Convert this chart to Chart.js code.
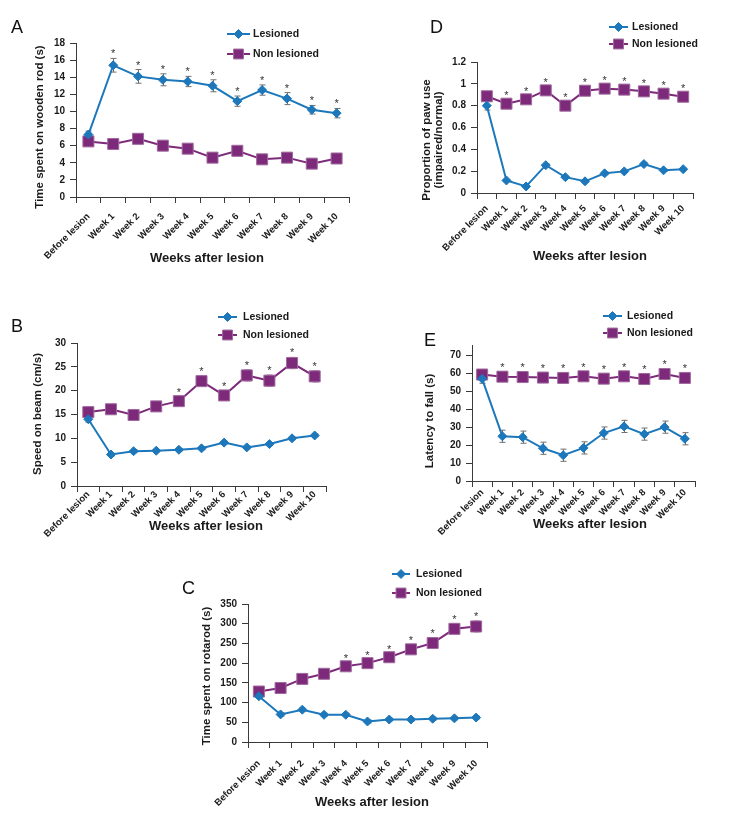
<!DOCTYPE html>
<html><head><meta charset="utf-8">
<script src="https://cdn.jsdelivr.net/npm/chart.js@4/dist/chart.umd.min.js"></script>
<style>
html,body{margin:0;padding:0;background:#fff;}
body{width:740px;height:835px;position:relative;overflow:hidden;}
canvas{position:absolute;}
</style></head><body>
<canvas id="cA"></canvas>
<canvas id="cD"></canvas>
<canvas id="cB"></canvas>
<canvas id="cE"></canvas>
<canvas id="cC"></canvas>
<script>
// ---------- DATA ----------
const weeks = ['Before lesion','Week 1','Week 2','Week 3','Week 4','Week 5','Week 6','Week 7','Week 8','Week 9','Week 10'];
const seriesNames = ['Lesioned','Non lesioned'];
const xAxisTitle = 'Weeks after lesion';

// A: wooden rod
const rodLesioned      = [7.3, 15.4, 14.1, 13.7, 13.5, 13.0, 11.2, 12.5, 11.5, 10.2, 9.8];
const rodLesionedErr   = [0.4, 0.8, 0.8, 0.7, 0.6, 0.7, 0.6, 0.6, 0.7, 0.5, 0.55];
const rodNonLesioned   = [6.5, 6.2, 6.8, 6.0, 5.65, 4.6, 5.4, 4.4, 4.6, 3.9, 4.5];
const rodNonLesionedErr= [0.3, 0.3, 0.3, 0.3, 0.3, 0.3, 0.3, 0.3, 0.3, 0.3, 0.3];
const rodSig           = [0, 1, 1, 1, 1, 1, 1, 1, 1, 1, 1];
const rodYTicks        = [0, 2, 4, 6, 8, 10, 12, 14, 16, 18];

// D: paw use
const pawLesioned      = [0.80, 0.115, 0.06, 0.255, 0.145, 0.107, 0.18, 0.198, 0.265, 0.208, 0.218];
const pawLesionedErr   = [0.04, 0.01, 0.01, 0.012, 0.01, 0.01, 0.012, 0.01, 0.012, 0.01, 0.01];
const pawNonLesioned   = [0.886, 0.818, 0.858, 0.94, 0.80, 0.937, 0.956, 0.947, 0.931, 0.91, 0.882];
const pawNonLesionedErr= [0.03, 0.03, 0.03, 0.035, 0.03, 0.035, 0.03, 0.035, 0.035, 0.03, 0.03];
const pawSig           = [0, 1, 1, 1, 1, 1, 1, 1, 1, 1, 1];
const pawYTicks        = [0, 0.2, 0.4, 0.6, 0.8, 1, 1.2];

// B: beam
const beamLesioned      = [14.0, 6.6, 7.3, 7.4, 7.6, 7.9, 9.1, 8.1, 8.8, 10.0, 10.6];
const beamLesionedErr   = [0.6, 0.3, 0.3, 0.3, 0.3, 0.3, 0.3, 0.3, 0.3, 0.3, 0.3];
const beamNonLesioned   = [15.5, 16.1, 14.9, 16.7, 17.8, 22.0, 19.0, 23.2, 22.1, 25.8, 23.0];
const beamNonLesionedErr= [0.6, 0.6, 0.6, 0.6, 0.9, 1.0, 1.0, 1.2, 1.2, 1.2, 1.2];
const beamSig           = [0, 0, 0, 0, 1, 1, 1, 1, 1, 1, 1];
const beamYTicks        = [0, 5, 10, 15, 20, 25, 30];

// E: latency to fall
const fallLesioned      = [57.1, 25.0, 24.5, 18.3, 14.4, 18.5, 26.8, 30.5, 26.2, 30.1, 23.6];
const fallLesionedErr   = [2.5, 3.4, 3.4, 3.4, 3.4, 3.4, 3.4, 3.4, 3.4, 3.4, 3.4];
const fallNonLesioned   = [59.5, 58.3, 58.1, 57.8, 57.6, 58.5, 57.2, 58.5, 57.0, 59.8, 57.6];
const fallNonLesionedErr= [2.6, 2.6, 2.6, 2.6, 2.6, 2.6, 2.6, 2.6, 2.6, 2.6, 2.6];
const fallSig           = [0, 1, 1, 1, 1, 1, 1, 1, 1, 1, 1];
const fallYTicks        = [0, 10, 20, 30, 40, 50, 60, 70];

// C: rotarod
const rotaLesioned      = [116, 70, 82, 69, 69, 52, 57, 57, 59, 60, 62];
const rotaLesionedErr   = [5, 4, 4, 4, 4, 4, 4, 4, 4, 4, 4];
const rotaNonLesioned   = [128, 137, 160, 173, 192, 200, 215, 235, 251, 287, 293];
const rotaNonLesionedErr= [6, 6, 6, 6, 8, 8, 8, 10, 12, 12, 14];
const rotaSig           = [0, 0, 0, 0, 1, 1, 1, 1, 1, 1, 1];
const rotaYTicks        = [0, 50, 100, 150, 200, 250, 300, 350];

// ---------- STYLE ----------
const FONT = "'Liberation Sans', Arial, Helvetica, sans-serif";
const BLUE = '#1c77bb';
const PURPLE = '#7d2a7b';
const PURPLE_EDGE = '#a06a9e';
const AXIS = '#3a3a3a';
const TXT = '#1a1a1a';
const ERR_LES = '#6f6f6f';
const ERR_NON = '#a58fa4';

function drawMarker(ctx, style, x, y, r, fill, edge) {
  ctx.save();
  ctx.fillStyle = fill; ctx.strokeStyle = edge; ctx.lineWidth = 1;
  ctx.beginPath();
  if (style === 'rectRot') {
    ctx.moveTo(x, y - r); ctx.lineTo(x + r, y); ctx.lineTo(x, y + r); ctx.lineTo(x - r, y); ctx.closePath();
  } else {
    const s = r * Math.SQRT1_2;
    ctx.rect(x - s, y - s, 2 * s, 2 * s);
  }
  ctx.fill(); ctx.stroke();
  ctx.restore();
}

function makePanel(id, cfg) {
  const canvas = document.getElementById(id);
  const b = cfg.box;
  canvas.width = b.w; canvas.height = b.h;
  canvas.style.left = b.x + 'px'; canvas.style.top = b.y + 'px';
  canvas.style.width = b.w + 'px'; canvas.style.height = b.h + 'px';
  const ox = b.x, oy = b.y;
  const WY = 45, HX = 75;
  const pad = {
    left: cfg.area.l - ox - WY,
    right: ox + b.w - cfg.area.r,
    top: cfg.area.t - oy,
    bottom: oy + b.h - cfg.area.b - HX
  };
  const styles = [
    {style: 'rectRot', radius: 4.5, color: BLUE, edge: BLUE, err: ERR_LES},
    {style: 'rect', radius: 7.8, color: PURPLE, edge: PURPLE_EDGE, err: ERR_NON}
  ];
  const values = [cfg.les, cfg.non];
  const errors = [cfg.lesErr, cfg.nonErr];

  const plugin = {
    id: 'panel' + cfg.letter,
    beforeDatasetsDraw(chart) {
      const ctx = chart.ctx, xs = chart.scales.x, ys = chart.scales.y;
      values.forEach((vals, k) => {
        ctx.save();
        ctx.strokeStyle = styles[k].err; ctx.lineWidth = 1;
        vals.forEach((v, i) => {
          const x = Math.round(xs.getPixelForValue(i)) + 0.5;
          const y1 = ys.getPixelForValue(v + errors[k][i]);
          const y2 = ys.getPixelForValue(v - errors[k][i]);
          ctx.beginPath();
          ctx.moveTo(x, y1); ctx.lineTo(x, y2);
          ctx.moveTo(x - 3, y1); ctx.lineTo(x + 3, y1);
          ctx.moveTo(x - 3, y2); ctx.lineTo(x + 3, y2);
          ctx.stroke();
        });
        ctx.restore();
      });
    },
    afterDraw(chart) {
      const ctx = chart.ctx, xs = chart.scales.x, ys = chart.scales.y;
      ctx.save();
      // asterisks
      ctx.fillStyle = '#333';
      ctx.font = '11px ' + FONT;
      ctx.textAlign = 'center'; ctx.textBaseline = 'alphabetic';
      const sv = values[cfg.sigOn], se = errors[cfg.sigOn];
      cfg.sig.forEach((s, i) => {
        if (!s) return;
        const x = xs.getPixelForValue(i);
        const y = ys.getPixelForValue(sv[i] + se[i]);
        ctx.fillText('*', x, y - 1);
      });
      // panel letter
      ctx.fillStyle = '#111';
      ctx.font = '18px ' + FONT;
      ctx.textAlign = 'left';
      ctx.fillText(cfg.letter, cfg.letterPos.x - ox, cfg.letterPos.y - oy);
      // y title
      ctx.font = 'bold 11.5px ' + FONT;
      ctx.fillStyle = TXT;
      ctx.textAlign = 'center'; ctx.textBaseline = 'middle';
      cfg.yTitle.forEach((t, j) => {
        ctx.save();
        ctx.translate(cfg.yTitlePos.x[j] - ox, cfg.yTitlePos.y - oy);
        ctx.rotate(-Math.PI / 2);
        ctx.fillText(t, 0, 0);
        ctx.restore();
      });
      // x title
      ctx.font = 'bold 13px ' + FONT;
      ctx.fillText(xAxisTitle, cfg.xTitlePos.x - ox, cfg.xTitlePos.y - oy);
      // legend
      const L = cfg.legend;
      ctx.font = 'bold 10.5px ' + FONT;
      ctx.textAlign = 'left';
      [L.y0, L.y1].forEach((ly, k) => {
        const y = ly - oy;
        ctx.strokeStyle = styles[k].color; ctx.lineWidth = 2;
        ctx.beginPath(); ctx.moveTo(L.x0 - ox, y); ctx.lineTo(L.x1 - ox, y); ctx.stroke();
        drawMarker(ctx, styles[k].style, (L.x0 + L.x1) / 2 - ox, y, k === 0 ? 4.5 : 7, styles[k].color, styles[k].edge);
        ctx.fillStyle = TXT;
        ctx.fillText(seriesNames[k], L.tx - ox, y);
      });
      ctx.restore();
    }
  };

  new Chart(canvas, {
    type: 'line',
    data: {
      labels: weeks,
      datasets: values.map((vals, k) => ({
        label: seriesNames[k],
        data: vals,
        borderColor: styles[k].color,
        backgroundColor: styles[k].color,
        borderWidth: 2,
        tension: 0,
        pointStyle: styles[k].style,
        pointRadius: styles[k].radius,
        pointHoverRadius: styles[k].radius,
        pointBackgroundColor: styles[k].color,
        pointBorderColor: styles[k].edge,
        pointBorderWidth: 1,
        clip: false
      }))
    },
    options: {
      responsive: false,
      animation: false,
      devicePixelRatio: 1,
      events: [],
      layout: {padding: pad},
      plugins: {legend: {display: false}, tooltip: {enabled: false}, title: {display: false}},
      scales: {
        x: {
          offset: true,
          grid: {offset: true, drawOnChartArea: false, drawTicks: true, tickLength: 6, color: AXIS},
          border: {display: true, color: AXIS, width: 1},
          ticks: {autoSkip: false, minRotation: 45, maxRotation: 45, padding: cfg.xPad, color: TXT,
                  font: {family: FONT, size: 9.5, weight: 'bold'}},
          afterFit(s) { s.height = HX; s.paddingLeft = 0; s.paddingRight = 0; }
        },
        y: {
          min: 0, max: cfg.yMax,
          grid: {drawOnChartArea: false, drawTicks: true, tickLength: 6, color: AXIS},
          border: {display: true, color: AXIS, width: 1},
          ticks: {padding: 5, color: TXT, font: {family: FONT, size: 10, weight: 'bold'},
                  callback: (v) => String(Number(Number(v).toFixed(6)))},
          afterBuildTicks(s) { s.ticks = cfg.yTicks.map(v => ({value: v})); },
          afterFit(s) { s.width = WY; s.paddingTop = 0; s.paddingBottom = 0; }
        }
      }
    },
    plugins: [plugin]
  });
}

makePanel('cA', {
  letter: 'A', box: {x: 0, y: 0, w: 370, h: 300}, area: {l: 76, r: 349, t: 43, b: 197}, xPad: 8,
  les: rodLesioned, lesErr: rodLesionedErr, non: rodNonLesioned, nonErr: rodNonLesionedErr,
  sig: rodSig, sigOn: 0, yTicks: rodYTicks, yMax: 18,
  letterPos: {x: 11, y: 33}, yTitle: ['Time spent on wooden rod (s)'], yTitlePos: {x: [40], y: 127},
  xTitlePos: {x: 207, y: 258}, legend: {x0: 227, x1: 250, tx: 253, y0: 34, y1: 54}
});
makePanel('cD', {
  letter: 'D', box: {x: 370, y: 0, w: 370, h: 300}, area: {l: 477, r: 693, t: 62, b: 193}, xPad: 4,
  les: pawLesioned, lesErr: pawLesionedErr, non: pawNonLesioned, nonErr: pawNonLesionedErr,
  sig: pawSig, sigOn: 1, yTicks: pawYTicks, yMax: 1.2,
  letterPos: {x: 430, y: 33}, yTitle: ['Proportion of paw use', '(impaired/normal)'], yTitlePos: {x: [427, 439], y: 140},
  xTitlePos: {x: 590, y: 256}, legend: {x0: 609, x1: 628, tx: 632, y0: 27, y1: 44}
});
makePanel('cB', {
  letter: 'B', box: {x: 0, y: 275, w: 370, h: 300}, area: {l: 77, r: 326, t: 343, b: 486}, xPad: -3,
  les: beamLesioned, lesErr: beamLesionedErr, non: beamNonLesioned, nonErr: beamNonLesionedErr,
  sig: beamSig, sigOn: 1, yTicks: beamYTicks, yMax: 30,
  letterPos: {x: 11, y: 332}, yTitle: ['Speed on beam (cm/s)'], yTitlePos: {x: [38], y: 414},
  xTitlePos: {x: 206, y: 526}, legend: {x0: 218, x1: 237, tx: 243, y0: 317, y1: 335}
});
makePanel('cE', {
  letter: 'E', box: {x: 370, y: 275, w: 370, h: 300}, area: {l: 472, r: 695, t: 345, b: 481}, xPad: 0,
  les: fallLesioned, lesErr: fallLesionedErr, non: fallNonLesioned, nonErr: fallNonLesionedErr,
  sig: fallSig, sigOn: 1, yTicks: fallYTicks, yMax: 76,
  letterPos: {x: 424, y: 346}, yTitle: ['Latency to fall (s)'], yTitlePos: {x: [430], y: 421},
  xTitlePos: {x: 590, y: 524}, legend: {x0: 603, x1: 622, tx: 627, y0: 316, y1: 333}
});
makePanel('cC', {
  letter: 'C', box: {x: 120, y: 555, w: 420, h: 280}, area: {l: 248, r: 487, t: 604, b: 742}, xPad: 10,
  les: rotaLesioned, lesErr: rotaLesionedErr, non: rotaNonLesioned, nonErr: rotaNonLesionedErr,
  sig: rotaSig, sigOn: 1, yTicks: rotaYTicks, yMax: 350,
  letterPos: {x: 182, y: 594}, yTitle: ['Time spent on rotarod (s)'], yTitlePos: {x: [207], y: 676},
  xTitlePos: {x: 372, y: 802}, legend: {x0: 392, x1: 410, tx: 416, y0: 574, y1: 593}
});
</script>
</body></html>
